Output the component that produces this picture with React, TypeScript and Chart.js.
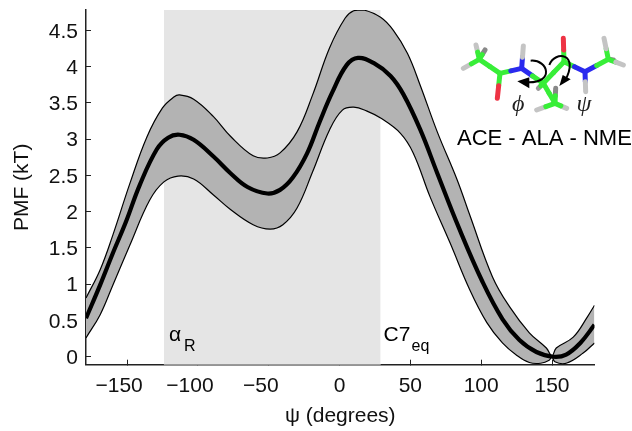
import React, { useEffect, useRef } from "react";
import { Chart, registerables } from "chart.js";

Chart.register(...registerables);

const FONT = "'Liberation Sans', Arial, sans-serif";

const xTickValues = [-150, -100, -50, 0, 50, 100, 150];
const yTickValues = [0, 0.5, 1, 1.5, 2, 2.5, 3, 3.5, 4, 4.5];
const xLimits = [-179, 180];
const yLimits = [-0.11, 4.78];
const alphaRegion = [-124, 29];

const meanX = [-179, -169, -160, -151, -141, -129, -121, -113, -103, -89, -77, -65, -51, -42, -33, -23, -14, -5, 5, 13, 24, 36, 45, 57, 69, 84, 101, 115, 127, 139, 151, 160, 170, 180];
const meanY = [0.53, 0.99, 1.43, 1.85, 2.37, 2.86, 3.02, 3.06, 2.99, 2.76, 2.53, 2.34, 2.25, 2.3, 2.47, 2.8, 3.24, 3.65, 4.02, 4.12, 4.05, 3.87, 3.62, 3.13, 2.53, 1.79, 1.03, 0.52, 0.23, 0.065, 0, 0.03, 0.19, 0.44];

const upperX = [-179, -169, -160, -148, -136, -125, -117, -113, -103, -89, -77, -61, -51, -42, -30, -19, -7, 4, 10, 17, 29, 38, 48, 57, 69, 83, 92, 108, 120, 134, 146, 150, 153, 165, 175, 180];
const upperY = [0.81, 1.2, 1.68, 2.39, 3.03, 3.43, 3.58, 3.61, 3.55, 3.31, 3.04, 2.77, 2.74, 2.81, 3.1, 3.61, 4.26, 4.67, 4.77, 4.78, 4.68, 4.5, 4.18, 3.74, 3.1, 2.44, 1.95, 1.1, 0.69, 0.33, 0.12, 0.01, 0.12, 0.27, 0.55, 0.71];

const lowerX = [-179, -169, -160, -148, -134, -124, -114, -103, -89, -77, -61, -49, -40, -30, -19, -7, 2, 10, 19, 29, 43, 52, 64, 78, 92, 104, 115, 125, 134, 142, 148, 150, 152, 160, 172, 180];
const lowerY = [0.26, 0.58, 0.99, 1.54, 2.16, 2.41, 2.49, 2.45, 2.23, 2.03, 1.82, 1.76, 1.82, 2.05, 2.55, 3.13, 3.4, 3.44, 3.39, 3.29, 3.08, 2.81, 2.2, 1.57, 0.92, 0.47, 0.19, 0.02, -0.08, -0.09, -0.05, 0, -0.07, -0.09, 0.05, 0.19];

const zip = (xs: number[], ys: number[]) => xs.map((x, i) => ({ x, y: ys[i] }));

// Inset molecule, in 3x crop units, anchored at (440, 20)
const atoms: Record<string, [number, number]> = {
  c1: [118, 118], h1a: [108, 75], h1b: [135, 90], h1c: [70, 145], c2: [180, 160], o2: [172, 235],
  n1: [245, 145], hn1: [250, 78], ca: [310, 190], hca: [295, 205], cb: [345, 250], hb1: [290, 270],
  hb2: [380, 265], hb3: [347, 205], c3: [372, 125], o3: [370, 55], n2: [435, 155], hn2: [437, 215],
  c4: [505, 118], h4a: [492, 55], h4b: [520, 120], h4c: [550, 135],
};
const GREEN = "#38ee38", BLUE = "#2a2aee", RED = "#ee3344", GREY = "#c4c4c4";
const bonds: [string, string, string, string][] = [
  ["h1a", "c1", GREY, GREEN], ["h1b", "c1", "#888888", GREEN], ["h1c", "c1", GREY, GREEN],
  ["hca", "ca", "#999999", GREEN], ["hb3", "cb", "#888888", GREEN], ["hb1", "cb", GREY, GREEN],
  ["hb2", "cb", GREY, GREEN], ["ca", "cb", GREEN, GREEN], ["c1", "c2", GREEN, GREEN],
  ["c2", "o2", GREEN, RED], ["c2", "n1", GREEN, BLUE], ["n1", "hn1", BLUE, GREY], ["n1", "ca", BLUE, GREEN],
  ["ca", "c3", GREEN, GREEN], ["c3", "o3", GREEN, RED], ["c3", "n2", GREEN, BLUE], ["n2", "hn2", BLUE, GREY],
  ["n2", "c4", BLUE, GREEN], ["c4", "h4a", GREEN, GREY], ["c4", "h4b", GREEN, "#888888"], ["c4", "h4c", GREEN, GREY],
];

const insetPlugin = {
  id: "inset",
  afterDatasetsDraw(chart: any) {
    const ctx = chart.ctx as CanvasRenderingContext2D;
    const { x: sx, y: sy } = chart.scales;
    ctx.save();
    ctx.fillStyle = "#000";
    ctx.textBaseline = "alphabetic";
    ctx.textAlign = "left";
    // region labels
    const base = sy.getPixelForValue(yLimits[0]);
    const ax = sx.getPixelForValue(alphaRegion[0]);
    const bx = sx.getPixelForValue(alphaRegion[1]);
    ctx.font = `21px ${FONT}`;
    ctx.fillText("α", ax + 5, base - 24);
    ctx.fillText("C7", bx + 3, base - 24);
    ctx.font = `16px ${FONT}`;
    ctx.fillText("R", ax + 20, base - 14);
    ctx.fillText("eq", bx + 31, base - 14);

    // molecule
    const px = (p: [number, number]): [number, number] => [440 + p[0] / 3, 20 + p[1] / 3];
    ctx.lineCap = "round";
    ctx.lineWidth = 5;
    for (const [a, b, ca, cb] of bonds) {
      const [x1, y1] = px(atoms[a]);
      const [x2, y2] = px(atoms[b]);
      const mx = (x1 + x2) / 2, my = (y1 + y2) / 2;
      ctx.strokeStyle = ca;
      ctx.beginPath(); ctx.moveTo(x1, y1); ctx.lineTo(mx, my); ctx.stroke();
      ctx.strokeStyle = cb;
      ctx.beginPath(); ctx.moveTo(mx, my); ctx.lineTo(x2, y2); ctx.stroke();
    }
    // rotation arrows
    ctx.strokeStyle = "#000";
    ctx.lineWidth = 2;
    ctx.lineCap = "butt";
    const P = (X: number, Y: number) => px([X, Y]);
    ctx.beginPath();
    ctx.moveTo(...P(272, 122));
    ctx.bezierCurveTo(...P(325, 118), ...P(345, 190), ...P(262, 187));
    ctx.stroke();
    ctx.beginPath();
    ctx.moveTo(...P(328, 135));
    ctx.bezierCurveTo(...P(345, 90), ...P(420, 100), ...P(375, 182));
    ctx.stroke();
    ctx.beginPath();
    ctx.moveTo(...P(232, 184)); ctx.lineTo(...P(268, 172)); ctx.lineTo(...P(268, 205)); ctx.closePath(); ctx.fill();
    ctx.beginPath();
    ctx.moveTo(...P(358, 198)); ctx.lineTo(...P(368, 165)); ctx.lineTo(...P(392, 178)); ctx.closePath(); ctx.fill();

    ctx.fillStyle = "#222";
    ctx.font = `italic 24px 'Liberation Serif', serif`;
    ctx.textAlign = "center";
    ctx.fillText("ϕ", 440 + 235 / 3, 20 + 272 / 3);
    ctx.fillText("ψ", 440 + 432 / 3, 20 + 272 / 3);
    ctx.fillStyle = "#000";
    ctx.textAlign = "left";
    ctx.font = `22px ${FONT}`;
    ctx.fillText("ACE - ALA - NME", 457, 145);
    ctx.restore();
  },
};

export default function App() {
  const ref = useRef<HTMLCanvasElement | null>(null);
  useEffect(() => {
    document.body.style.margin = "0";
    const lineBase = { pointRadius: 0, pointHitRadius: 0, tension: 0.4 };
    const chart = new Chart(ref.current as HTMLCanvasElement, {
      type: "line",
      data: {
        datasets: [
          {
            label: "alpha region", order: 5, data: zip(alphaRegion, [yLimits[1], yLimits[1]]),
            borderWidth: 0, borderColor: "transparent", backgroundColor: "#e5e5e5", fill: "start", pointRadius: 0,
          },
          {
            label: "axis in region", order: 4, data: zip(alphaRegion, [yLimits[0], yLimits[0]]),
            borderWidth: 1.5, borderColor: "#999999", pointRadius: 0, clip: false,
          },
          {
            ...lineBase, label: "upper", order: 3, data: zip(upperX, upperY), borderColor: "#000", borderWidth: 1.2,
            backgroundColor: "#b3b3b3", fill: "+1",
          },
          { ...lineBase, label: "lower", order: 2, data: zip(lowerX, lowerY), borderColor: "#000", borderWidth: 1.2 },
          { ...lineBase, label: "mean", order: 1, data: zip(meanX, meanY), borderColor: "#000", borderWidth: 4.2 },
        ] as any,
      },
      options: {
        animation: false,
        responsive: false,
        devicePixelRatio: 1,
        layout: { padding: { top: 10, right: 37.5, left: 0, bottom: 0 } },
        plugins: { legend: { display: false }, tooltip: { enabled: false }, title: { display: false } },
        scales: {
          x: {
            type: "linear", min: xLimits[0], max: xLimits[1],
            afterBuildTicks: (s: any) => { s.ticks = xTickValues.map((value) => ({ value })); },
            afterFit: (s: any) => { s.height = 66.3; s.paddingLeft = 0; s.paddingRight = 0; },
            border: { display: true, color: "#222", width: 1.5 },
            grid: { drawOnChartArea: false, drawTicks: true, tickLength: -5, color: "#222", tickWidth: 1 },
            ticks: {
              autoSkip: false, maxRotation: 0, minRotation: 0, padding: 14, color: "#111",
              font: { family: FONT, size: 21 },
              callback: (v: any) => (Number(v) < 0 ? "−" + Math.abs(Number(v)) + "\u00a0\u00a0\u2009" : String(v)),
            },
            title: { display: true, text: "ψ (degrees)", color: "#111", font: { family: FONT, size: 21 }, padding: { top: 0, bottom: 2 } },
          },
          y: {
            type: "linear", min: yLimits[0], max: yLimits[1],
            afterBuildTicks: (s: any) => { s.ticks = yTickValues.map((value) => ({ value })); },
            afterFit: (s: any) => { s.width = 86; s.paddingTop = 0; s.paddingBottom = 0; },
            border: { display: true, color: "#222", width: 1.5 },
            grid: { drawOnChartArea: false, drawTicks: true, tickLength: -5, color: "#222", tickWidth: 1 },
            ticks: {
              autoSkip: false, padding: 13, labelOffset: 1.5, color: "#111",
              font: { family: FONT, size: 21 },
              callback: (v: any) => String(v),
            },
            title: { display: true, text: "PMF (kT)", color: "#111", font: { family: FONT, size: 21 }, padding: { top: 10, bottom: 0 } },
          },
        },
      } as any,
      plugins: [insetPlugin],
    });
    return () => chart.destroy();
  }, []);
  return <canvas ref={ref} width={632} height={431} style={{ display: "block" }} />;
}
